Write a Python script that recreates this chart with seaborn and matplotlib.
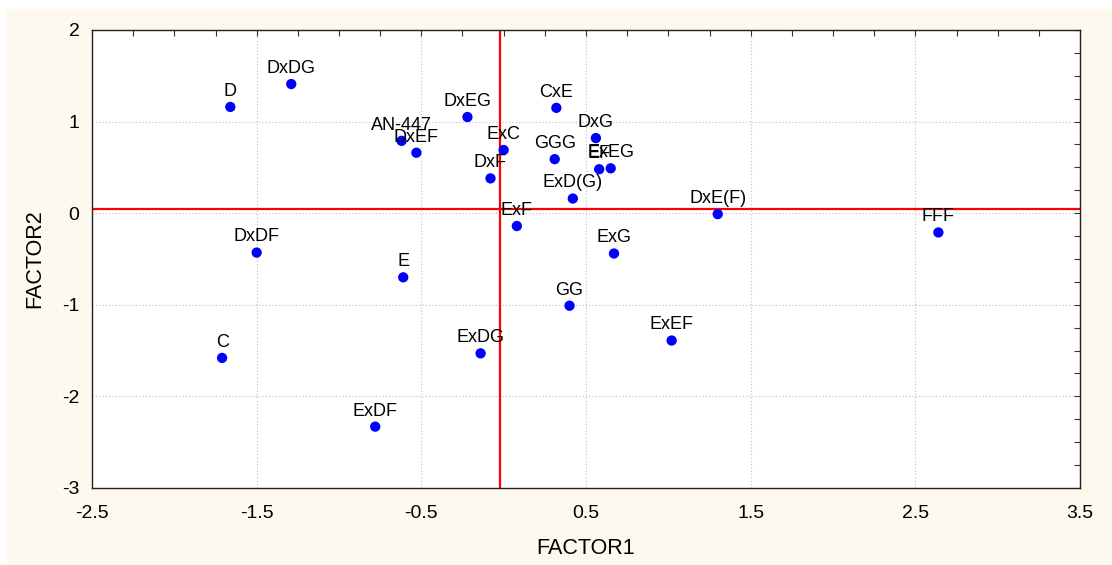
import matplotlib
matplotlib.use("Agg")
import matplotlib.pyplot as plt
from matplotlib.patches import Rectangle
from matplotlib.ticker import MultipleLocator, FixedLocator
import seaborn as sns
import pandas as pd

labels = ["D", "DxDG", "AN-447", "DxEF", "DxEG", "ExC", "DxF", "CxE", "GGG",
          "DxG", "EF", "ExEG", "ExD(G)", "ExF", "DxE(F)", "ExG", "GG", "ExEF",
          "ExDG", "FFF", "DxDF", "E", "C", "ExDF"]
factor1 = [-1.66, -1.29, -0.62, -0.53, -0.22, 0.00, -0.08, 0.32, 0.31,
           0.56, 0.58, 0.65, 0.42, 0.08, 1.30, 0.67, 0.40, 1.02,
           -0.14, 2.64, -1.50, -0.61, -1.71, -0.78]
factor2 = [1.16, 1.41, 0.79, 0.66, 1.05, 0.69, 0.38, 1.15, 0.59,
           0.82, 0.48, 0.49, 0.16, -0.14, -0.01, -0.44, -1.01, -1.39,
           -1.53, -0.21, -0.43, -0.70, -1.58, -2.33]
mean_f1 = -0.02
mean_f2 = 0.043
x_ticks = [-2.5, -1.5, -0.5, 0.5, 1.5, 2.5, 3.5]
y_ticks = [-3, -2, -1, 0, 1, 2]

df = pd.DataFrame({"FACTOR1": factor1, "FACTOR2": factor2, "label": labels})

sns.set_style("white")
plt.rcParams["font.family"] = ["Liberation Sans", "DejaVu Sans"]
plt.rcParams["text.color"] = "black"
plt.rcParams["axes.labelcolor"] = "black"
plt.rcParams["xtick.color"] = "black"
plt.rcParams["ytick.color"] = "black"

fig = plt.figure(figsize=(11.12, 5.65), dpi=100)
fig.patch.set_facecolor("white")
fig.add_artist(Rectangle((7 / 1112, 0), 1, 1 - 9 / 565, transform=fig.transFigure,
                         facecolor="#FEF9EF", edgecolor="none", zorder=-10))
ax = fig.add_axes([92 / 1112, 1 - 488 / 565, (1080 - 92) / 1112, (488 - 30) / 565])
ax.set_facecolor("white")

ax.axhline(mean_f2, color="#FF0000", lw=1.6, zorder=2)
ax.axvline(mean_f1, color="#FF0000", lw=1.6, zorder=2)

sns.scatterplot(data=df, x="FACTOR1", y="FACTOR2", ax=ax, color="#0000FF",
                s=55, edgecolor="none", zorder=3)
for lab, x, y in zip(labels, factor1, factor2):
    ax.annotate(lab, (x, y), xytext=(0, 8), textcoords="offset points",
                ha="center", va="baseline", fontsize=13, color="black", zorder=4)

ax.set_xlim(-2.5, 3.5)
ax.set_ylim(-3, 2)
ax.xaxis.set_major_locator(FixedLocator(x_ticks))
ax.yaxis.set_major_locator(FixedLocator(y_ticks))
ax.xaxis.set_minor_locator(MultipleLocator(0.25))
ax.yaxis.set_minor_locator(MultipleLocator(0.25))
ax.set_xticklabels([f"{t:g}" for t in x_ticks])
ax.set_yticklabels([f"{t:g}" for t in y_ticks])
ax.grid(which="major", linestyle=(0, (1, 2)), color="#BEBEBE", linewidth=0.8, zorder=0)
ax.tick_params(which="both", direction="in", top=True, right=True, length=4,
               width=0.8, color="#333333")
ax.tick_params(axis="x", which="major", pad=12, labelsize=14, labelcolor="black")
ax.tick_params(axis="y", which="major", pad=9, labelsize=14, labelcolor="black")
for sp in ax.spines.values():
    sp.set_visible(True)
    sp.set_color("#222222")
    sp.set_linewidth(1.0)

ax.set_xlabel("FACTOR1", fontsize=15.5, labelpad=12)
ax.set_ylabel("FACTOR2", fontsize=15.5, labelpad=12)

fig.savefig("out.png", dpi=100, facecolor=fig.get_facecolor())
